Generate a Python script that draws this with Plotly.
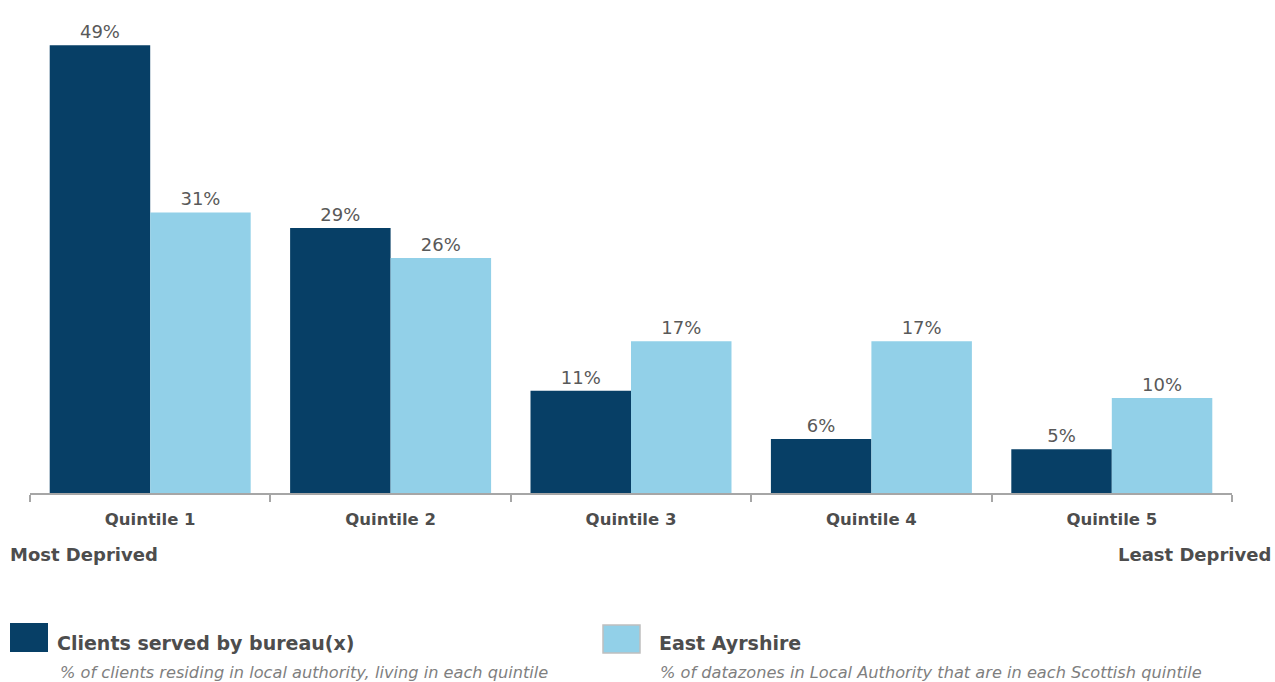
import plotly.graph_objects as go

categories = ["Quintile 1", "Quintile 2", "Quintile 3", "Quintile 4", "Quintile 5"]
clients = [49.0, 29.0, 11.2, 5.9, 4.8]
east_ayrshire = [30.7, 25.7, 16.6, 16.6, 10.4]
series_names = ["Clients served by bureau(x)", "East Ayrshire"]
series_notes = ["% of clients residing in local authority, living in each quintile",
                "% of datazones in Local Authority that are in each Scottish quintile"]
colors = ["#073F66", "#92D0E8"]

FONT = "DejaVu Sans"
TXT = "#595959"
W, H = 1275, 682
L, R, T, B = 30, 1232, 36, 493  # plot area in page pixels

def px(x):
    return (x - L) / (R - L)

def py(y):
    return (B - y) / (B - T)

fig = go.Figure()
for name, vals, col in zip(series_names, [clients, east_ayrshire], colors):
    fig.add_trace(go.Bar(
        x=categories, y=vals, name=name, marker=dict(color=col, line=dict(width=0)),
        texttemplate="%{y:.0f}%", textposition="outside", cliponaxis=False,
        textfont=dict(family=FONT, size=18, color=TXT), showlegend=False,
    ))

annotations = [
    dict(text="<b>Most Deprived</b>", x=px(8), y=py(554), xanchor="left", yanchor="middle",
         font=dict(family=FONT, size=18, color="#4D4D4D")),
    dict(text="<b>Least Deprived</b>", x=px(1273), y=py(554), xanchor="right", yanchor="middle",
         font=dict(family=FONT, size=18, color="#4D4D4D")),
]
shapes = []
legend_pos = [(10, 48, 623, 652, 55, 58), (603, 640, 625, 653, 657, 658)]
borders = [colors[0], "#BFBFBF"]
for (x0, x1, y0, y1, tx, sx), name, note, col, border in zip(
        legend_pos, series_names, series_notes, colors, borders):
    shapes.append(dict(type="rect", xref="paper", yref="paper", x0=px(x0), x1=px(x1),
                       y0=py(y1), y1=py(y0), fillcolor=col,
                       line=dict(color=border, width=1.5 if border == "#BFBFBF" else 0)))
    annotations.append(dict(text="<b>" + name + "</b>", x=px(tx), y=py(643), xanchor="left",
                            yanchor="middle", font=dict(family=FONT, size=19, color="#4D4D4D")))
    annotations.append(dict(text="<i>" + note + "</i>", x=px(sx), y=py(672), xanchor="left",
                            yanchor="middle", font=dict(family=FONT, size=16.2, color="#7F7F7F")))
for a in annotations:
    a.update(xref="paper", yref="paper", showarrow=False)

fig.update_layout(
    width=W, height=H, margin=dict(l=L, r=W - R, t=T, b=H - B),
    paper_bgcolor="white", plot_bgcolor="white",
    barmode="group", bargap=0.164, bargroupgap=0,
    xaxis=dict(showline=True, linecolor="#A6A6A6", linewidth=1.5, ticks="outside",
               tickson="boundaries", ticklen=7, tickcolor="#A6A6A6", tickwidth=1.5,
               ticklabelstandoff=10,
               tickfont=dict(family=FONT, size=16.5, color="#4D4D4D", weight="bold"),
               showgrid=False, zeroline=False),
    yaxis=dict(range=[0, 50], visible=False, showgrid=False, zeroline=False),
    annotations=annotations, shapes=shapes,
)
fig.write_html("out.html", config={"displayModeBar": False},
               post_script="document.body.style.margin='0';document.body.style.overflow='hidden';")
